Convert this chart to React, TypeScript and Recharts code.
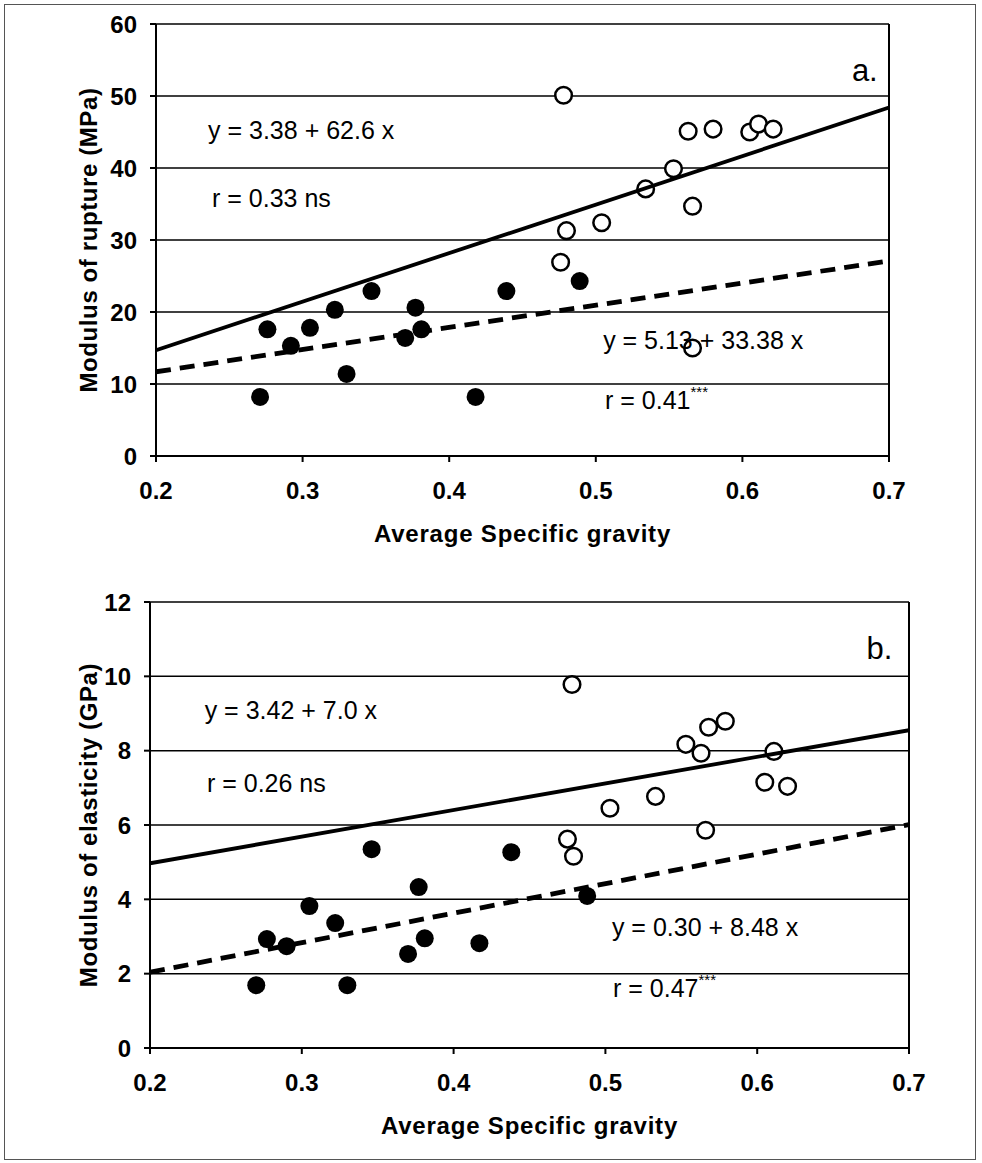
import React from 'react';
import { ScatterChart, Scatter, XAxis, YAxis, CartesianGrid, ReferenceLine, ReferenceDot } from 'recharts';

const FONT = '"Liberation Sans", Arial, sans-serif';

// x-axis ticks (shared)
const xTicks = [0.2, 0.3, 0.4, 0.5, 0.6, 0.7];

// Panel a: Modulus of rupture (MPa)
const aTicks = [0, 10, 20, 30, 40, 50, 60];
const aFilledX = [0.271, 0.276, 0.292, 0.305, 0.322, 0.33, 0.347, 0.37, 0.377, 0.381, 0.418, 0.439, 0.489];
const aFilledY = [8.2, 17.6, 15.3, 17.8, 20.3, 11.4, 22.9, 16.4, 20.6, 17.6, 8.2, 22.9, 24.3];
const aOpenX = [0.476, 0.478, 0.48, 0.504, 0.534, 0.553, 0.563, 0.566, 0.566, 0.58, 0.605, 0.611, 0.621];
const aOpenY = [26.9, 50.1, 31.3, 32.4, 37.1, 39.9, 45.1, 34.7, 15.0, 45.4, 45.0, 46.1, 45.4];
const aSolidX = [0.2, 0.7];
const aSolidY = [14.7, 48.4];
const aDashX = [0.2, 0.7];
const aDashY = [11.7, 27.1];

// Panel b: Modulus of elasticity (GPa)
const bTicks = [0, 2, 4, 6, 8, 10, 12];
const bFilledX = [0.27, 0.277, 0.29, 0.305, 0.322, 0.33, 0.346, 0.37, 0.377, 0.381, 0.417, 0.438, 0.488];
const bFilledY = [1.69, 2.93, 2.74, 3.82, 3.36, 1.69, 5.35, 2.53, 4.33, 2.95, 2.82, 5.27, 4.09];
const bOpenX = [0.475, 0.478, 0.479, 0.503, 0.533, 0.553, 0.563, 0.566, 0.568, 0.579, 0.605, 0.611, 0.62];
const bOpenY = [5.62, 9.78, 5.16, 6.45, 6.77, 8.17, 7.93, 5.86, 8.63, 8.79, 7.15, 7.98, 7.04];
const bSolidX = [0.2, 0.7];
const bSolidY = [4.97, 8.55];
const bDashX = [0.2, 0.7];
const bDashY = [2.04, 6.01];

const zip = (xs: number[], ys: number[]) => xs.map((x, i) => ({ x, y: ys[i] }));

const FilledDot = (p: any) => <circle cx={p.cx} cy={p.cy} r={9} fill="#000" />;
const OpenDot = (p: any) => <circle cx={p.cx} cy={p.cy} r={8.3} fill="#fff" stroke="#000" strokeWidth={2.5} />;
const NoDot = () => <g />;

type Ann = { x: number; y: number; text: string; sup?: string; size?: number; anchor?: string };

const annotation = (a: Ann, key: string) => (
  <ReferenceDot
    key={key}
    x={a.x}
    y={a.y}
    r={0}
    fill="none"
    stroke="none"
    ifOverflow="visible"
    label={(p: any) => {
      const vb = p.viewBox || {};
      return (
        <text
          x={vb.x}
          y={vb.y}
          textAnchor={a.anchor || 'start'}
          dominantBaseline="central"
          fontFamily={FONT}
          fontSize={a.size || 25}
          fill="#000"
        >
          {a.text}
          {a.sup ? (
            <tspan fontSize={15} dy={-9}>
              {a.sup}
            </tspan>
          ) : null}
        </text>
      );
    }}
  />
);

type PanelProps = {
  top: number;
  height: number;
  marginTop: number;
  marginRight: number;
  yAxisWidth: number;
  xAxisHeight: number;
  yDomain: [number, number];
  yTicks: number[];
  yTitle: string;
  yTitleDist: number;
  filled: { x: number; y: number }[];
  open: { x: number; y: number }[];
  solid: { x: number; y: number }[];
  dash: { x: number; y: number }[];
  anns: Ann[];
};

const Panel = (P: PanelProps) => (
  <div style={{ position: 'absolute', left: 0, top: P.top }}>
    <ScatterChart
      width={982}
      height={P.height}
      margin={{ top: P.marginTop, right: P.marginRight, left: 0, bottom: 0 }}
    >
      <CartesianGrid horizontal vertical={false} stroke="#000" strokeWidth={1.5} strokeOpacity={1} />
      <XAxis
        type="number"
        dataKey="x"
        domain={[0.2, 0.7]}
        ticks={xTicks}
        tickFormatter={(v: number) => v.toFixed(1)}
        allowDataOverflow
        height={P.xAxisHeight}
        axisLine={{ stroke: '#000', strokeWidth: 2 }}
        tickLine={{ stroke: '#000', strokeWidth: 2 }}
        tickSize={6}
        tickMargin={20}
        tick={{ fontSize: 24, fontWeight: 'bold', fill: '#000', fontFamily: FONT }}
        label={(p: any) => {
          const vb = p.viewBox || {};
          return (
            <text
              x={vb.x + vb.width / 2}
              y={vb.y + 77}
              textAnchor="middle"
              dominantBaseline="central"
              fontFamily={FONT}
              fontSize={24}
              fontWeight="bold"
              letterSpacing={0.8}
              fill="#000"
            >
              Average Specific gravity
            </text>
          );
        }}
      />
      <YAxis
        type="number"
        dataKey="y"
        domain={P.yDomain}
        ticks={P.yTicks}
        allowDataOverflow
        width={P.yAxisWidth}
        axisLine={{ stroke: '#000', strokeWidth: 2 }}
        tickLine={{ stroke: '#000', strokeWidth: 2 }}
        tickSize={6}
        tickMargin={13}
        tick={{ fontSize: 24, fontWeight: 'bold', fill: '#000', fontFamily: FONT }}
        label={(p: any) => {
          const vb = p.viewBox || {};
          const x = vb.x + vb.width - P.yTitleDist;
          const y = vb.y + vb.height / 2;
          return (
            <text
              x={x}
              y={y}
              transform={`rotate(-90 ${x} ${y})`}
              textAnchor="middle"
              dominantBaseline="central"
              fontFamily={FONT}
              fontSize={24}
              fontWeight="bold"
              letterSpacing={0.6}
              fill="#000"
            >
              {P.yTitle}
            </text>
          );
        }}
      />
      <ReferenceLine x={0.7} stroke="#000" strokeWidth={2} />
      <Scatter data={P.filled} shape={FilledDot} isAnimationActive={false} />
      <Scatter data={P.open} shape={OpenDot} isAnimationActive={false} />
      <Scatter
        data={P.solid}
        shape={NoDot}
        line={{ stroke: '#000', strokeWidth: 3.8 }}
        isAnimationActive={false}
      />
      <Scatter
        data={P.dash}
        shape={NoDot}
        line={{ stroke: '#000', strokeWidth: 4.8, strokeDasharray: '15 9' }}
        isAnimationActive={false}
      />
      {P.anns.map((a, i) => annotation(a, 'ann' + i))}
    </ScatterChart>
  </div>
);

const aAnns: Ann[] = [
  { x: 0.2355, y: 45.3, text: 'y = 3.38 + 62.6 x' },
  { x: 0.2382, y: 35.8, text: 'r = 0.33 ns' },
  { x: 0.505, y: 16.1, text: 'y = 5.13 + 33.38 x' },
  { x: 0.5063, y: 7.8, text: 'r = 0.41', sup: '***' },
  { x: 0.6835, y: 53.6, text: 'a.', size: 31, anchor: 'middle' },
];

const bAnns: Ann[] = [
  { x: 0.236, y: 9.09, text: 'y = 3.42 + 7.0 x' },
  { x: 0.2375, y: 7.12, text: 'r = 0.26 ns' },
  { x: 0.5043, y: 3.25, text: 'y = 0.30 + 8.48 x' },
  { x: 0.505, y: 1.61, text: 'r = 0.47', sup: '***' },
  { x: 0.6805, y: 10.75, text: 'b.', size: 31, anchor: 'middle' },
];

export default function App() {
  return (
    <div
      style={{
        position: 'absolute',
        left: 0,
        top: 0,
        width: 982,
        height: 1163,
        background: '#fff',
        fontFamily: FONT,
        overflow: 'hidden',
      }}
    >
      <div
        style={{
          position: 'absolute',
          left: 4,
          top: 4,
          width: 972,
          height: 1156,
          border: '1.5px solid #555',
          boxSizing: 'border-box',
        }}
      />
      <Panel
        top={0}
        height={580}
        marginTop={24}
        marginRight={93}
        yAxisWidth={156}
        xAxisHeight={124}
        yDomain={[0, 60]}
        yTicks={aTicks}
        yTitle="Modulus of rupture (MPa)"
        yTitleDist={68}
        filled={zip(aFilledX, aFilledY)}
        open={zip(aOpenX, aOpenY)}
        solid={zip(aSolidX, aSolidY)}
        dash={zip(aDashX, aDashY)}
        anns={aAnns}
      />
      <Panel
        top={580}
        height={583}
        marginTop={22}
        marginRight={73}
        yAxisWidth={150}
        xAxisHeight={115}
        yDomain={[0, 12]}
        yTicks={bTicks}
        yTitle="Modulus of elasticity (GPa)"
        yTitleDist={62}
        filled={zip(bFilledX, bFilledY)}
        open={zip(bOpenX, bOpenY)}
        solid={zip(bSolidX, bSolidY)}
        dash={zip(bDashX, bDashY)}
        anns={bAnns}
      />
    </div>
  );
}
